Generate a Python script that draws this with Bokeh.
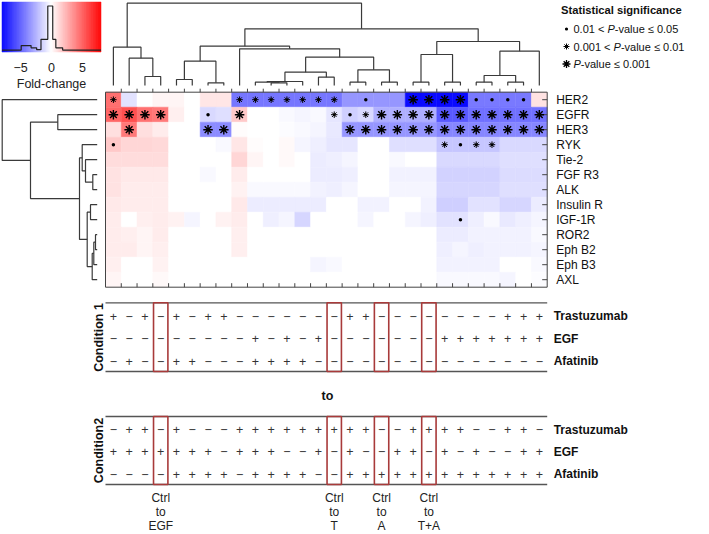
import numpy as np
from bokeh.plotting import figure
from bokeh.models import Range1d
from bokeh.embed import file_html
from bokeh.resources import INLINE
from bokeh.core.properties import value

# ---------------- data ----------------
genes = ["HER2", "EGFR", "HER3", "RYK", "Tie-2", "FGF R3", "ALK",
         "Insulin R", "IGF-1R", "ROR2", "Eph B2", "Eph B3", "AXL"]

fc_her2 = [4.5, -0.9, 0.0, 0.3, 0.3, 0.0, 0.8, 0.8, -4.3, -4.3, -4.3, -4.3, -4.3, -4.3,
           -4.3, -3.3, -3.3, -3.3, -3.3, -7.7, -7.7, -7.7, -7.7, -4.2, -4.2, -4.2, -4.2, 0.9]
fc_egfr = [4.8, 5.5, 4.5, 4.2, 0.5, 0.0, -1.2, -1.0, 1.7, 0.0, 0.0, -0.2, -0.3, -0.2,
           -0.8, -1.5, -1.2, -2.5, -2.5, -2.5, -2.5, -5.2, -5.2, -4.5, -4.5, -4.5, -4.5, -4.5]
fc_her3 = [1.0, 4.2, 1.0, 0.6, 0.0, 0.0, -3.6, -3.6, 0.1, 0.0, 0.0, -0.1, -0.2, -0.3,
           -0.7, -3.3, -3.3, -3.3, -3.3, -3.3, -3.3, -3.8, -3.8, -3.8, -3.8, -3.8, -3.8, -3.8]
fc_ryk = [1.7, 1.3, 1.3, 1.2, 0.0, 0.0, 0.0, -0.2, 0.8, 0.1, 0.0, 0.2, -0.3, -0.5,
          -0.8, -0.8, 0.0, 0.0, -1.0, -1.0, -1.0, -1.8, -1.8, -1.8, -1.8, -1.2, -1.2, -1.2]
fc_tie2 = [1.1, 1.1, 1.1, 1.1, 0.0, 0.0, 0.0, 0.0, 1.3, 0.3, 0.0, 0.2, 0.0, -0.6,
           -0.5, -0.3, 0.0, 0.0, -0.2, 0.0, 0.0, -1.2, -1.2, -1.2, -1.2, -1.0, -1.0, -1.0]
fc_fgfr3 = [0.9, 0.7, 0.7, 0.7, 0.0, 0.0, -0.2, 0.0, 0.6, 0.0, 0.0, 0.0, 0.0, -0.6,
            -0.6, -0.5, 0.0, 0.0, -0.4, -0.4, -0.4, -1.4, -1.4, -1.4, -1.4, -1.1, -1.1, -1.1]
fc_alk = [0.9, 0.6, 0.6, 0.6, 0.0, 0.0, 0.0, 0.0, 0.4, -0.2, -0.2, -0.2, -0.2, -0.4,
          -0.5, -0.3, 0.0, 0.0, -0.3, -0.3, -0.3, -1.3, -1.3, -1.3, -1.3, -1.0, -1.0, -1.0]
fc_insr = [0.7, 0.6, 0.6, 0.6, 0.0, 0.0, 0.0, 0.0, 0.7, -0.6, -0.6, -0.6, -0.6, -0.6,
           0.0, 0.0, -0.4, -0.4, 0.0, 0.0, -0.4, -1.5, -1.5, -0.9, -0.9, -1.3, -1.3, -0.6]
fc_igf1r = [0.6, 0.0, 0.5, 0.6, 0.4, -0.3, 0.0, 0.4, 0.6, 0.0, -0.5, -0.3, -1.3, 0.0,
            0.0, 0.0, -0.3, 0.0, 0.0, -0.3, -0.5, -0.9, -0.9, -0.5, -0.2, -0.7, -0.5, -0.3]
fc_ror2 = [0.6, 0.5, 0.3, 0.6, 0.0, 0.0, 0.0, 0.0, 0.5, 0.0, 0.0, 0.0, 0.0, 0.0,
           0.0, 0.0, 0.0, 0.0, 0.0, 0.0, 0.0, -0.6, -0.6, -0.4, -0.4, -0.4, -0.4, -0.2]
fc_ephb2 = [0.6, 0.6, 0.3, 0.5, 0.0, 0.0, 0.0, 0.0, 0.5, 0.0, 0.0, 0.0, 0.0, 0.0,
            0.0, 0.0, 0.0, 0.0, 0.0, 0.0, 0.0, -0.5, -0.3, -0.5, -0.4, -0.4, -0.4, -0.3]
fc_ephb3 = [0.5, 0.0, 0.0, 0.4, 0.0, 0.0, 0.0, 0.0, 0.0, 0.0, 0.0, 0.0, 0.0, -0.3,
            -0.2, 0.0, 0.0, 0.0, 0.0, 0.0, 0.0, -0.4, -0.4, -0.4, -0.4, 0.0, 0.0, -0.2]
fc_axl = [0.3, 0.0, 0.0, 0.2, 0.0, 0.0, 0.0, 0.0, 0.0, 0.0, 0.0, 0.0, 0.0, 0.0,
          0.0, 0.0, 0.0, 0.0, 0.0, 0.0, 0.0, -0.2, -0.2, -0.2, -0.2, -0.3, 0.0, -0.1]
fold = [fc_her2, fc_egfr, fc_her3, fc_ryk, fc_tie2, fc_fgfr3, fc_alk,
        fc_insr, fc_igf1r, fc_ror2, fc_ephb2, fc_ephb3, fc_axl]

# significance: 1 = 0.01<P<=0.05, 2 = 0.001<P<=0.01, 3 = P<=0.001
sig_her2 = [2, 0, 0, 0, 0, 0, 0, 0, 2, 2, 2, 2, 2, 2, 2, 0, 1, 0, 0, 3, 3, 3, 3, 1, 1, 1, 1, 0]
sig_egfr = [3, 3, 3, 3, 0, 0, 1, 0, 3, 0, 0, 0, 0, 0, 2, 1, 2, 3, 3, 3, 3, 3, 3, 3, 3, 3, 3, 3]
sig_her3 = [0, 3, 0, 0, 0, 0, 3, 3, 0, 0, 0, 0, 0, 0, 0, 3, 3, 3, 3, 3, 3, 3, 3, 3, 3, 3, 3, 3]
sig_ryk = [1, 0, 0, 0, 0, 0, 0, 0, 0, 0, 0, 0, 0, 0, 0, 0, 0, 0, 0, 0, 0, 2, 1, 2, 2, 0, 0, 0]
sig_igf1r = [0] * 22 + [1] + [0] * 5
sig_none = [0] * 28
sig = [sig_her2, sig_egfr, sig_her3, sig_ryk, sig_none, sig_none, sig_none,
       sig_none, sig_igf1r, sig_none, sig_none, sig_none, sig_none]

treatments = ["Trastuzumab", "EGF", "Afatinib"]
cond1_trastuzumab = "+-+-+-++-------++--------+++"
cond1_egf = "---------+-+-+-------+++++++"
cond1_afatinib = "-+--++---++++-" + "-" * 14
cond2_trastuzumab = "-++-+---" + "++++++++" + "+" + "--" + "++++" + "--" + "++" + "-"
cond2_egf = "+++++++-+++--+" + "-+--++-+-+--++"
cond2_afatinib = "----++++-++++--" + "+" * 13

highlight_cols = [3, 14, 17, 20]
highlight_labels = [["Ctrl", "to", "EGF"], ["Ctrl", "to", "T"], ["Ctrl", "to", "A"], ["Ctrl", "to", "T+A"]]

# column dendrogram merges (left child, right child, height)
col_merge_a = [10, 9, 29, 13, 30, 15, 17, 33, 32, 8, 4, 6, 38, 40, 19, 21, 42, 23, 25, 45, 47, 44, 41, 2, 1, 0, 53]
col_merge_b = [11, 28, 12, 14, 31, 16, 18, 34, 35, 36, 5, 7, 39, 37, 20, 22, 43, 24, 26, 46, 27, 48, 49, 3, 51, 52, 50]
col_merge_h = [2.7, 3.3, 4.0, 8.3, 13.3, 3.3, 3.3, 15.7, 28.3, 36.7, 6.0, 2.7, 24.3, 39.3,
               3.3, 3.3, 31.0, 3.3, 3.3, 10.0, 34.3, 44.0, 56.7, 9.0, 27.3, 38.3, 82.3]
# row dendrogram merges
row_merge_a = [9, 13, 14, 7, 16, 5, 4, 3, 20, 1, 22, 0]
row_merge_b = [10, 11, 12, 8, 15, 6, 18, 19, 17, 2, 21, 23]
row_merge_h = [1.7, 3.4, 5.0, 6.7, 10.0, 4.4, 11.7, 15.0, 17.7, 39.4, 66.7, 95.0]

# histogram behind colour key
hist_edges = [-8.0, -4.9, -3.3, -2.4, -1.7, -0.6, 0.2, 0.7, 1.8, 8.0]
hist_heights = [0.02, 0.12, 0.07, 0.03, 0.26, 1.0, 0.26, 0.07, 0.02]

# ---------------- layout ----------------
FONT = "Liberation Sans"
HX0, HX1 = 105.0, 546.7
HY0, RH = 91.7, 15.0
NCOL, NROW = 28, 13
CW = (HX1 - HX0) / NCOL
HY1 = HY0 + RH * NROW
VMAX = 8.0


def cx(i):
    return HX0 + (i + 0.5) * CW


def ry(j):
    return HY0 + (j + 0.5) * RH


def fc_color(v):
    t = min(abs(v) / VMAX, 1.0)
    c = int(round(255 * (1 - t)))
    if v < 0:
        return "#%02x%02x%02x" % (c, c, 255)
    return "#%02x%02x%02x" % (255, c, c)


def fs(px):
    return "%.1fpx" % px


p = figure(width=709, height=534, x_range=Range1d(0, 709), y_range=Range1d(534, 0),
           output_backend="svg", toolbar_location=None, min_border=0,
           x_axis_location=None, y_axis_location=None)
p.grid.visible = False
p.outline_line_color = None

# ---- heatmap ----
L, R, T, B, C = [], [], [], [], []
for j, row in enumerate(fold):
    for i, v in enumerate(row):
        L.append(HX0 + i * CW)
        R.append(HX0 + (i + 1) * CW)
        T.append(HY0 + j * RH)
        B.append(HY0 + (j + 1) * RH)
        C.append(fc_color(v))
p.quad(left=L, right=R, top=T, bottom=B, fill_color=C, line_color=C, line_width=0.5)

# frame and ticks
p.quad(left=[HX0], right=[HX1], top=[HY0], bottom=[HY1], fill_color=None,
       line_color="#444444", line_width=1)
bx = [HX0 + k * CW for k in range(1, NCOL)]
p.segment(x0=bx, x1=bx, y0=[HY0 - 3.5] * len(bx), y1=[HY0] * len(bx), line_color="#444444", line_width=1)
p.segment(x0=bx, x1=bx, y0=[HY1 - 4] * len(bx), y1=[HY1] * len(bx), line_color="#444444", line_width=1)
rys = [ry(j) for j in range(NROW)]
p.segment(x0=[HX1 - 5] * NROW, x1=[HX1] * NROW, y0=rys, y1=rys, line_color="#444444", line_width=1)

# significance markers
m1x, m1y, m2x, m2y, m3x, m3y = [], [], [], [], [], []
for j, row in enumerate(sig):
    for i, s in enumerate(row):
        if s == 1:
            m1x.append(cx(i)); m1y.append(ry(j))
        elif s == 2:
            m2x.append(cx(i)); m2y.append(ry(j))
        elif s == 3:
            m3x.append(cx(i)); m3y.append(ry(j))
p.scatter(m1x, m1y, marker="circle", size=3.5, fill_color="black", line_color=None)
p.scatter(m2x, m2y, marker="asterisk", size=6.5, line_color="black", line_width=1.0)
p.scatter(m2x, m2y, marker="circle", size=2.5, fill_color="black", line_color=None)
p.scatter(m3x, m3y, marker="asterisk", size=9.5, line_color="black", line_width=1.4)

# gene labels
p.text(x=[HX1 + 9] * NROW, y=rys, text=genes, text_font=value(FONT), text_font_size=fs(12),
       text_baseline="middle", text_align="left", text_color="#111111")


# ---- dendrograms ----
def build(ma, mb, mh, leaf_pos):
    pos = list(leaf_pos)
    hgt = [0.0] * len(leaf_pos)
    out = []
    for a, b, h in zip(ma, mb, mh):
        out.append((pos[a], hgt[a], pos[b], hgt[b], h))
        pos.append((pos[a] + pos[b]) / 2.0)
        hgt.append(h)
    return out


TOP_LEAF_Y = 85.0
xs, ys = [], []
for pa, ha, pb, hb, h in build(col_merge_a, col_merge_b, col_merge_h, [cx(i) for i in range(NCOL)]):
    xs.append([pa, pa, pb, pb])
    ys.append([TOP_LEAF_Y - ha, TOP_LEAF_Y - h, TOP_LEAF_Y - h, TOP_LEAF_Y - hb])
p.multi_line(xs=xs, ys=ys, line_color="#3a3a3a", line_width=1.2)

LEFT_LEAF_X = 96.7
xs, ys = [], []
for pa, ha, pb, hb, h in build(row_merge_a, row_merge_b, row_merge_h, rys):
    xs.append([LEFT_LEAF_X - ha, LEFT_LEAF_X - h, LEFT_LEAF_X - h, LEFT_LEAF_X - hb])
    ys.append([pa, pa, pb, pb])
p.multi_line(xs=xs, ys=ys, line_color="#3a3a3a", line_width=1.2)

# ---- colour key ----
KX0, KX1, KY0, KY1 = 1.5, 100.5, 1.5, 51.5
vals = np.linspace(-VMAX, VMAX, 121)
kx = KX0 + (vals + VMAX) / (2 * VMAX) * (KX1 - KX0)
kc = [fc_color(0.5 * (a + b)) for a, b in zip(vals[:-1], vals[1:])]
p.quad(left=kx[:-1], right=kx[1:], top=[KY0] * len(kc), bottom=[KY1] * len(kc),
       fill_color=kc, line_color=kc, line_width=0.5)
hx, hy = [], []
HBASE, HMAX = 50.5, 45.0
for k, hv in enumerate(hist_heights):
    xa = KX0 + (hist_edges[k] + VMAX) / (2 * VMAX) * (KX1 - KX0)
    xb = KX0 + (hist_edges[k + 1] + VMAX) / (2 * VMAX) * (KX1 - KX0)
    hx += [xa, xb]
    hy += [HBASE - hv * HMAX] * 2
p.line(hx, hy, line_color="#222222", line_width=1.2)
tick_vals = [-5, 0, 5]
tick_x = [KX0 + (t + VMAX) / (2 * VMAX) * (KX1 - KX0) for t in tick_vals]
p.text(x=tick_x, y=[67] * 3, text=["\u22125", "0", "5"], text_font=value(FONT), text_font_size=fs(12.5),
       text_align="center", text_baseline="middle", text_color="#222222")
p.text(x=[51], y=[83], text=["Fold-change"], text_font=value(FONT), text_font_size=fs(12.5),
       text_align="center", text_baseline="middle", text_color="#222222")

# ---- significance legend ----
W = {'0': 556, '1': 556, '5': 556, '.': 278, ' ': 278, '<': 584, '\u2264': 549, '-': 333,
     'v': 500, 'a': 556, 'l': 222, 'u': 556, 'e': 556, 'P': 667}
LFS = 11.0


def tw(s):
    return sum(W.get(ch, 556) for ch in s) * LFS / 1000.0


p.text(x=[560.5], y=[9], text=["Statistical significance"], text_font=value(FONT),
       text_font_size=fs(11.2), text_font_style="bold", text_baseline="middle", text_color="#111111")
leg_y = [28.5, 46, 63.5]
leg_pre = ["0.01 < ", "0.001 < ", ""]
leg_post = ["-value \u2264 0.05", "-value \u2264 0.01", "-value \u2264 0.001"]
LX = 573.0
for k in range(3):
    x0 = LX
    if leg_pre[k]:
        p.text(x=[x0], y=[leg_y[k]], text=[leg_pre[k]], text_font=value(FONT), text_font_size=fs(LFS),
               text_baseline="middle", text_color="#111111")
        x0 += tw(leg_pre[k])
    p.text(x=[x0], y=[leg_y[k]], text=["P"], text_font=value(FONT), text_font_size=fs(LFS),
           text_font_style="italic", text_baseline="middle", text_color="#111111")
    x0 += tw("P")
    p.text(x=[x0], y=[leg_y[k]], text=[leg_post[k]], text_font=value(FONT), text_font_size=fs(LFS),
           text_baseline="middle", text_color="#111111")
p.scatter([566], [leg_y[0]], marker="circle", size=3.2, fill_color="black", line_color=None)
p.scatter([566], [leg_y[1]], marker="asterisk", size=6, line_color="black", line_width=1.0)
p.scatter([566], [leg_y[1]], marker="circle", size=2.3, fill_color="black", line_color=None)
p.scatter([566], [leg_y[2]], marker="asterisk", size=8, line_color="black", line_width=1.3)


# ---- condition tables ----
def cond_table(rows, y_top, y_bot, row_y, title, title_y):
    p.segment(x0=[HX0, HX0], x1=[HX1, HX1], y0=[y_top, y_bot], y1=[y_top, y_bot],
              line_color="#555555", line_width=1.3)
    tx, ty, tt = [], [], []
    for r, s in enumerate(rows):
        for i, ch in enumerate(s):
            tx.append(cx(i)); ty.append(row_y[r]); tt.append("+" if ch == "+" else "\u2212")
    p.text(x=tx, y=ty, text=tt, text_font=value(FONT), text_font_size=fs(12.5),
           text_align="center", text_baseline="middle", text_color="#333333")
    p.text(x=[HX1 + 6.5] * 3, y=row_y, text=treatments, text_font=value(FONT), text_font_size=fs(12),
           text_font_style="bold", text_baseline="middle", text_color="#111111")
    p.quad(left=[HX0 + c * CW + 0.7 for c in highlight_cols],
           right=[HX0 + (c + 1) * CW - 0.7 for c in highlight_cols],
           top=[y_top] * 4, bottom=[y_bot] * 4, fill_color=None, line_color="#a83a3a", line_width=1.6)
    p.text(x=[98.5], y=[title_y], text=[title], text_font=value(FONT), text_font_size=fs(12.5),
           text_font_style="bold", text_align="center", text_baseline="middle", angle=np.pi / 2,
           text_color="#111111")


cond_table([cond1_trastuzumab, cond1_egf, cond1_afatinib], 302.3, 371.0, [315.7, 338.3, 360.7],
           "Condition 1", 337)
p.text(x=[327], y=[395], text=["to"], text_font=value(FONT), text_font_size=fs(12.5),
       text_font_style="bold", text_align="center", text_baseline="middle", text_color="#111111")
cond_table([cond2_trastuzumab, cond2_egf, cond2_afatinib], 416.0, 484.0, [429.0, 451.0, 473.7],
           "Condition2", 450)

lx, lyy, lt = [], [], []
label_y = [497.0, 511.5, 525.5]
for c, lab in zip(highlight_cols, highlight_labels):
    for k, s in enumerate(lab):
        lx.append(cx(c)); lyy.append(label_y[k]); lt.append(s)
p.text(x=lx, y=lyy, text=lt, text_font=value(FONT), text_font_size=fs(12),
       text_align="center", text_baseline="middle", text_color="#222222")

open("out.html", "w").write(file_html(p, INLINE))
